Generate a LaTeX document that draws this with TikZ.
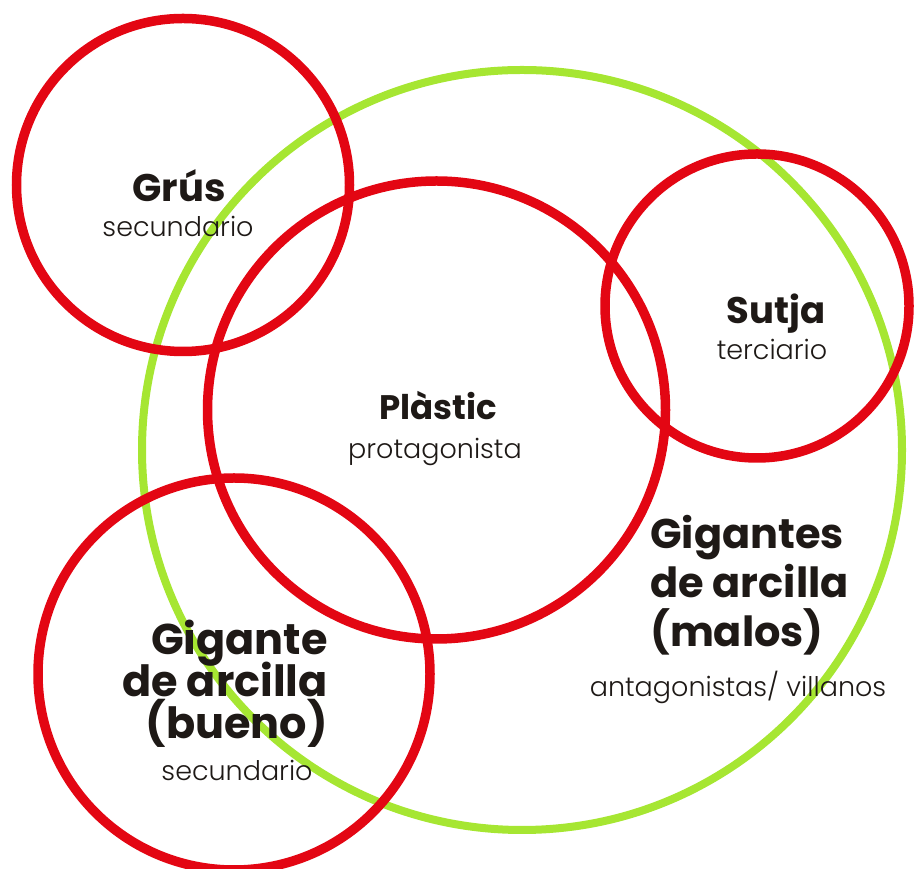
\documentclass[tikz,border=0pt]{standalone}
\usepackage{fontspec}
\setmainfont{Poppins}[UprightFont=* Light, BoldFont=* Bold]
\definecolor{ringred}{RGB}{227,6,19}
\definecolor{ringgreen}{RGB}{166,230,50}
\definecolor{txt}{RGB}{30,25,22}
\begin{document}
\begin{tikzpicture}[x=1pt,y=1pt,
  redring/.style={circle,draw=ringred,line width=9.5pt,inner sep=0pt,outer sep=0pt},
  greenring/.style={circle,draw=ringgreen,line width=8pt,inner sep=0pt,outer sep=0pt},
  lbl/.style={text=txt,inner sep=0pt},
  title/.style={lbl,font=\bfseries\fontsize{#1}{#1}\selectfont},
  sub/.style={lbl,font=\fontsize{27}{27}\selectfont}]
\useasboundingbox (0,0) rectangle (915,869);
\node[greenring,minimum size=760pt] (villains) at (522,419) {};
\node[redring,minimum size=333pt] (grus) at (183,684) {};
\node[redring,minimum size=458pt] (plastic) at (436.5,459) {};
\node[redring,minimum size=304pt] (sutja) at (757,563) {};
\node[redring,minimum size=392pt] (bueno) at (234,195) {};
% labels
\node[title=38.5,anchor=base] (grusT) at (179,667) {Grús};
\node[sub,anchor=base] (grusS) at (178,632) {secundario};
\node[title=34,anchor=base] (plasticT) at (438,449) {Plàstic};
\node[sub,anchor=base] (plasticS) at (435,410) {protagonista};
\node[title=37,anchor=base] (sutjaT) at (776,545) {Sutja};
\node[sub,anchor=base] (sutjaS) at (772,509) {terciario};
\node[title=43,anchor=base east] (buenoT1) at (328,214) {Gigante};
\node[title=43,anchor=base east] (buenoT2) at (328,172) {de arcilla};
\node[title=43,anchor=base east] (buenoT3) at (328,130) {(bueno)};
\node[sub,anchor=base] (buenoS) at (237,88) {secundario};
\node[title=41.5,anchor=base west] (malosT1) at (650,320) {Gigantes};
\node[title=41.5,anchor=base west] (malosT2) at (650,271) {de arcilla};
\node[title=41.5,anchor=base west] (malosT3) at (650,222) {(malos)};
\node[sub,anchor=base] (malosS) at (738,172) {antagonistas/ villanos};
\end{tikzpicture}
\end{document}
